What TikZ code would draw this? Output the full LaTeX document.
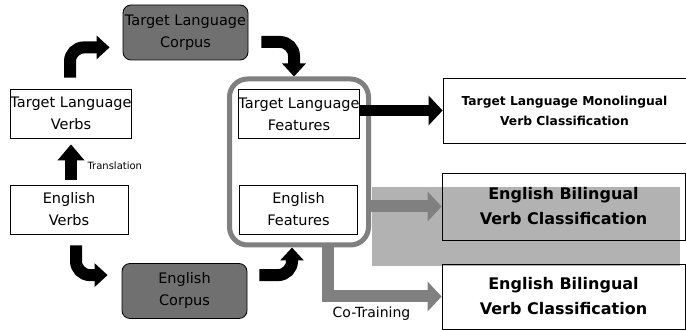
\documentclass[tikz,border=0pt]{standalone}
\usepackage{fontspec}
\setmainfont{DejaVu Sans}
\usepackage{xcolor}
\definecolor{corpusgray}{RGB}{112, 112, 112}
\definecolor{framegray}{RGB}{128, 128, 128}
\definecolor{shadegray}{RGB}{178, 178, 178}
\usetikzlibrary{arrows.meta,positioning,calc}

\begin{document}
\begin{tikzpicture}[
    x=1pt, y=-1pt,
    box/.style={
        rectangle,
        minimum width=118pt,
        minimum height=49pt,
        inner sep=0pt,
        align=center,
        font={\fontsize{14.5}{22}\selectfont},
        draw=black,
        fill=white,
        line width=0.8pt
    },
    corpus/.style={
        box,
        fill=corpusgray,
        rounded corners=8pt,
        minimum width=125pt,
        minimum height=55pt
    },
    result/.style={
        rectangle,
        minimum width=243pt,
        minimum height=66pt,
        inner sep=0pt,
        align=center,
        font={\bfseries\fontsize{16}{25}\selectfont},
        draw=black,
        line width=0.8pt
    },
    bentarrow/.style={-{Triangle[width=23pt,length=13pt]},line width=12pt,rounded corners=14pt},
    uparrow/.style={-{Triangle[width=26pt,length=16pt]},line width=12pt},
    arrow/.style={-{Triangle[width=29pt,length=14pt]},line width=11pt},
    grayarrow/.style={arrow,draw=framegray,line width=12pt}
]
    \useasboundingbox (0,0) rectangle (686,331);

    % Shaded area behind the first result
    \fill[shadegray] (372,187) rectangle (680,266);

    % Source side
    \node[corpus] (tlcorpus) at (185.5,32.5) {Target Language\\Corpus};
    \node[box] (tlverbs) at (71,113.5) {Target Language\\Verbs};
    \node[box] (enverbs) at (69,209.5) {English\\Verbs};
    \node[corpus] (encorpus) at (184.5,291) {English\\Corpus};

    % Feature group
    \node[draw=framegray, line width=5pt, rounded corners=18pt,
          minimum width=139pt, minimum height=166pt] (featbox) at (299,162) {};
    \node[box] (tlfeat) at (299,114) {Target Language\\Features};
    \node[box] (enfeat) at (298.5,209.5) {English\\Features};

    % Classifications
    \node[result, minimum height=65pt, font={\bfseries\fontsize{12.3}{20}\selectfont}] (tlmono) at (564.5,110.5) {
        Target Language Monolingual\\
        Verb Classification
    };
    \node[result, minimum height=67pt] (enbil1) at (563.5,206.5) {
        English Bilingual\\
        Verb Classification
    };
    \node[result, minimum height=65pt] (enbil2) at (563.5,296.5) {
        English Bilingual\\
        Verb Classification
    };

    % Arrows
    \draw[uparrow] ([xshift=2pt,yshift=5pt]enverbs.north) -- ([yshift=-6pt]tlverbs.south);
    \draw[bentarrow] ([xshift=-1pt,yshift=11pt]tlverbs.north) |- ([xshift=-13pt,yshift=13pt]tlcorpus.south west);
    \draw[bentarrow] ([xshift=13pt,yshift=-9.5pt]tlcorpus.east) -| ([xshift=-5pt]featbox.north);
    \draw[bentarrow] ([xshift=7pt,yshift=-11pt]enverbs.south) |- ([xshift=-14pt,yshift=-12pt]encorpus.north west);
    \draw[bentarrow] ([xshift=12pt,yshift=-12pt]encorpus.north east) -| ([xshift=-7pt]featbox.south);
    \draw[arrow] (tlfeat.east |- tlmono.west) -- (tlmono.west);
    \draw[grayarrow] (featbox.east |- enbil1.west) -- (enbil1.west);
    \draw[grayarrow] ([xshift=29pt,yshift=2.5pt]featbox.south) |- (enbil2.west);

    % Labels
    \node[anchor=west, font={\fontsize{10}{12}\selectfont}] (translbl) at (84,166) {Translation};
    \node[font={\fontsize{14}{17}\selectfont}] (cotrainlbl) at (371.5,314) {Co-Training};
\end{tikzpicture}
\end{document}
